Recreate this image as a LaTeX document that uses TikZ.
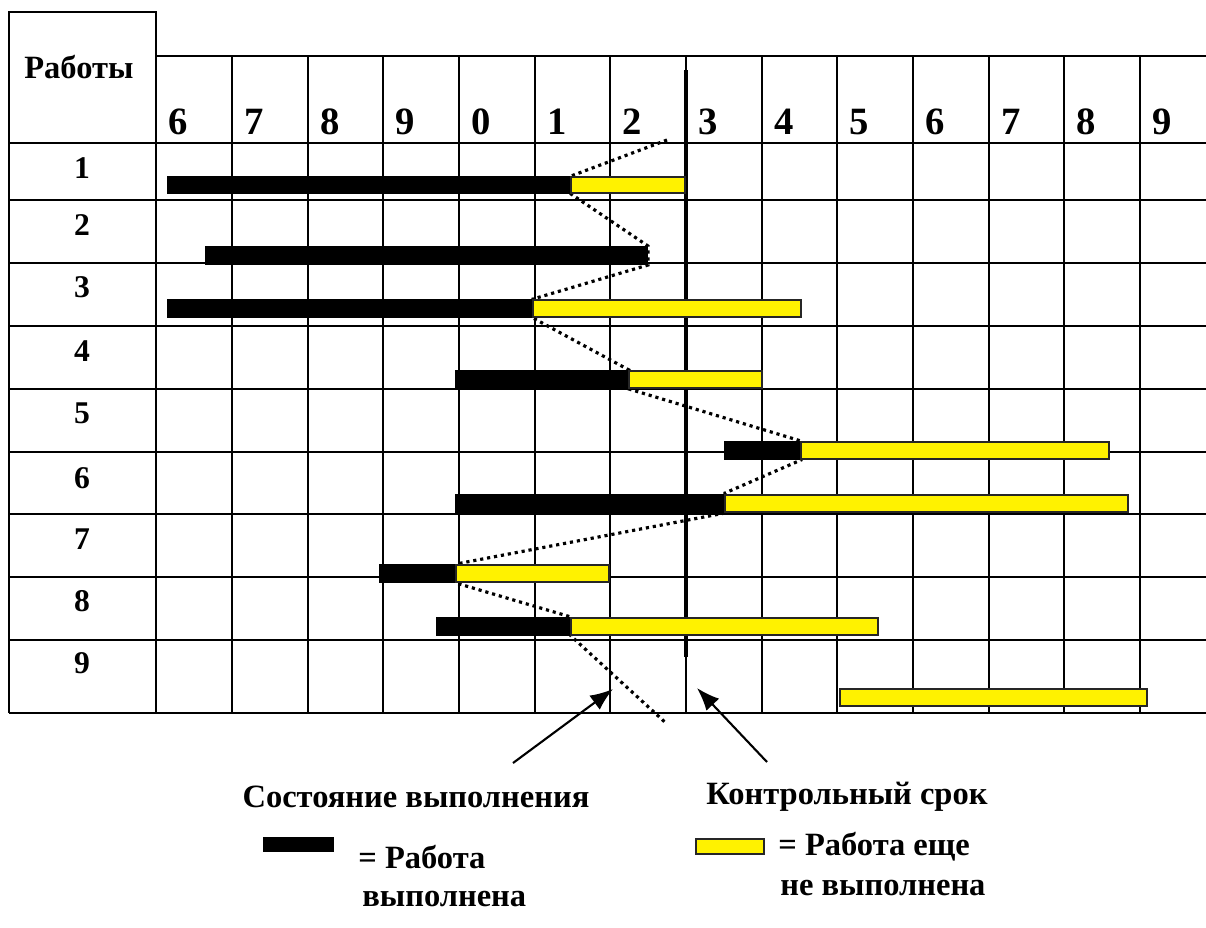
\documentclass[tikz,border=0pt]{standalone}
\usepackage{fontspec}
\setmainfont{Liberation Serif}
\usepackage{tikz}
\usetikzlibrary{arrows.meta}

\begin{document}
\begin{tikzpicture}[x=0.02cm,y=-0.02cm,>={Latex[length=13pt,width=10pt]},
  grid/.style={line width=1.2pt},
  done/.style={fill=black},
  todo/.style={fill=yellow,draw=black!85,line width=0.6pt},
  hd/.style={font=\fontsize{22}{22}\selectfont\bfseries,anchor=base west,inner sep=0},
  rownum/.style={font=\fontsize{18}{18}\selectfont\bfseries,inner sep=0},
  txt/.style={font=\fontsize{18.5}{18.5}\selectfont\bfseries,inner sep=0}]
\useasboundingbox (0,0) rectangle (1206,927);
% table frame and rows
\draw[grid] (9,713)--(9,12)--(156,12)--(156,713);
\draw[grid] (156,56)--(1206,56);
\draw[grid] (9,143)--(1206,143);
\draw[grid] (9,200)--(1206,200);
\draw[grid] (9,263)--(1206,263);
\draw[grid] (9,326)--(1206,326);
\draw[grid] (9,389)--(1206,389);
\draw[grid] (9,452)--(1206,452);
\draw[grid] (9,514)--(1206,514);
\draw[grid] (9,577)--(1206,577);
\draw[grid] (9,640)--(1206,640);
\draw[grid] (9,713)--(1206,713);
% columns
\draw[grid] (232,56)--(232,713);
\draw[grid] (308,56)--(308,713);
\draw[grid] (383,56)--(383,713);
\draw[grid] (459,56)--(459,713);
\draw[grid] (535,56)--(535,713);
\draw[grid] (610,56)--(610,713);
\draw[grid] (686,56)--(686,713);
\draw[grid] (762,56)--(762,713);
\draw[grid] (837,56)--(837,713);
\draw[grid] (913,56)--(913,713);
\draw[grid] (989,56)--(989,713);
\draw[grid] (1064,56)--(1064,713);
\draw[grid] (1140,56)--(1140,713);
% header
\draw node[hd,font=\fontsize{18.5}{18.5}\selectfont\bfseries] (hjobs) at (24,78) {Работы};
\draw node[hd] (h1) at (168,134) {6};
\draw node[hd] (h2) at (244,134) {7};
\draw node[hd] (h3) at (320,134) {8};
\draw node[hd] (h4) at (395,134) {9};
\draw node[hd] (h5) at (471,134) {0};
\draw node[hd] (h6) at (547,134) {1};
\draw node[hd] (h7) at (622,134) {2};
\draw node[hd] (h8) at (698,134) {3};
\draw node[hd] (h9) at (774,134) {4};
\draw node[hd] (h10) at (849,134) {5};
\draw node[hd] (h11) at (925,134) {6};
\draw node[hd] (h12) at (1001,134) {7};
\draw node[hd] (h13) at (1076,134) {8};
\draw node[hd] (h14) at (1152,134) {9};
% job numbers
\draw node[rownum] (r1) at (82,168) {1};
\draw node[rownum] (r2) at (82,225) {2};
\draw node[rownum] (r3) at (82,287) {3};
\draw node[rownum] (r4) at (82,351) {4};
\draw node[rownum] (r5) at (82,413) {5};
\draw node[rownum] (r6) at (82,478) {6};
\draw node[rownum] (r7) at (82,539) {7};
\draw node[rownum] (r8) at (82,601) {8};
\draw node[rownum] (r9) at (82,663) {9};
% deadline
\draw[line width=2.6pt] (686,70)--(686,657);
% status line
\draw[line width=1.8pt,dash pattern=on 1.8pt off 2.2pt]
  (667,140)--(571,176)--(571,194)--(648,246)--(648,265)--(533,299)--(533,318)
  --(629,370)--(629,389)--(801,441)--(801,460)--(725,493)--(725,513)
  --(456,564)--(456,583)--(571,617)--(571,636)--(667,724);
% bars
\fill[done] (167,176) rectangle (571,194);
\filldraw[todo] (571,177) rectangle (685,193);
\fill[done] (205,246) rectangle (648,265);
\fill[done] (167,299) rectangle (533,318);
\filldraw[todo] (533,300) rectangle (801,317);
\fill[done] (455,370) rectangle (629,389);
\filldraw[todo] (629,371) rectangle (762,388);
\fill[done] (724,441) rectangle (801,460);
\filldraw[todo] (801,442) rectangle (1109,459);
\fill[done] (455,494) rectangle (725,513);
\filldraw[todo] (725,495) rectangle (1128,512);
\fill[done] (379,564) rectangle (456,583);
\filldraw[todo] (456,565) rectangle (609,582);
\fill[done] (436,617) rectangle (571,636);
\filldraw[todo] (571,618) rectangle (878,635);
\filldraw[todo] (840,689) rectangle (1147,706);
% captions with arrows
\draw node[txt] (state) at (416,797) {Состояние выполнения};
\draw node[txt] (check) at (847,797) {Контрольный срок};
\coordinate (statefrom) at (513,763);
\coordinate (stateto) at (613,689);
\coordinate (checkfrom) at (767,762);
\coordinate (checkto) at (697,688);
\draw[->,line width=1.2pt] (statefrom)--(stateto);
\draw[->,line width=1.2pt] (checkfrom)--(checkto);
% legend
\fill[done] (263,837) rectangle (334,852);
\filldraw[todo,line width=1.1pt] (696,839) rectangle (764,854);
\draw node[txt,anchor=base west] (leg1) at (358,868) {= Работа};
\draw node[txt,anchor=base west] (leg1b) at (362,906) {выполнена};
\draw node[txt,anchor=base west] (leg2) at (778,855) {= Работа еще};
\draw node[txt,anchor=base west] (leg2b) at (780,895) {не выполнена};
\end{tikzpicture}
\end{document}
